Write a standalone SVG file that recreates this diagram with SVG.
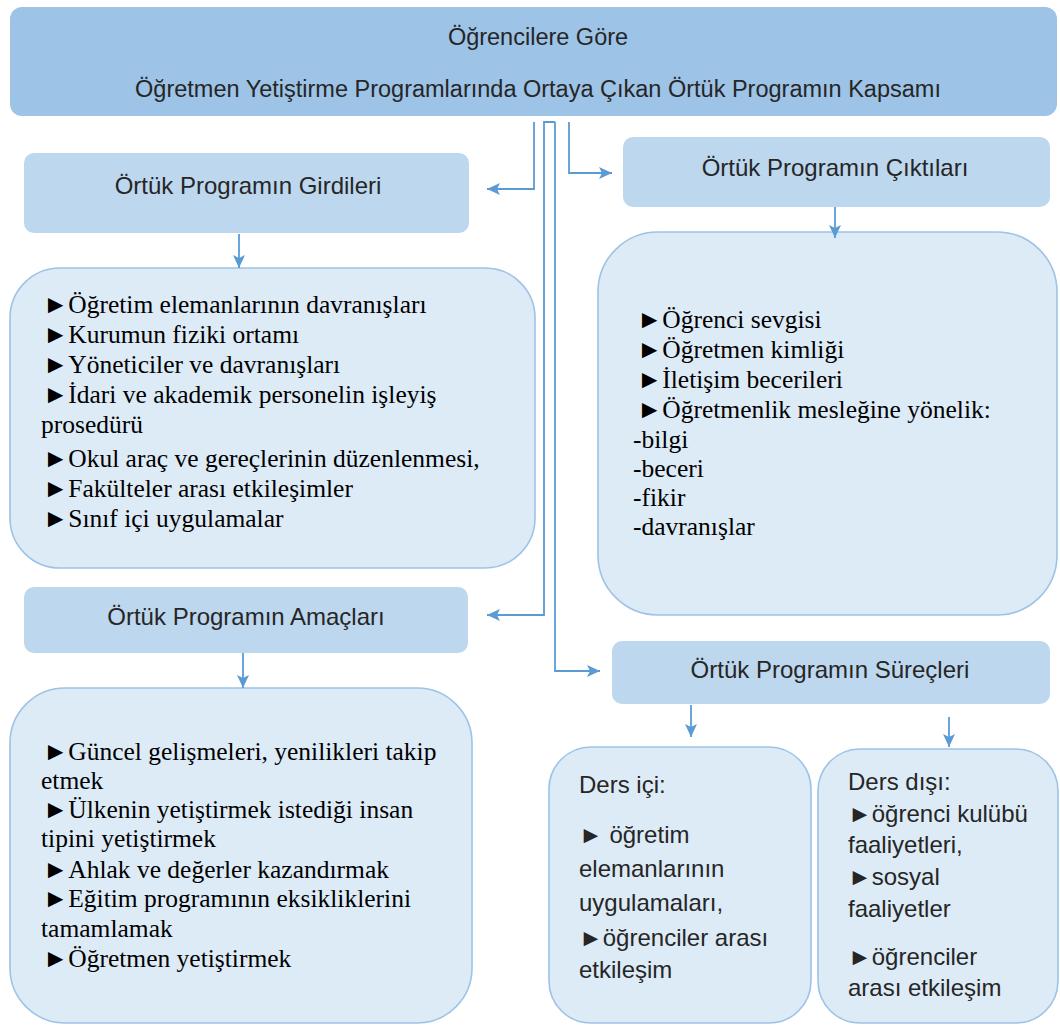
<svg xmlns="http://www.w3.org/2000/svg" width="1060" height="1026" viewBox="0 0 1060 1026">
<style>
.hdr{fill:#9DC3E6}
.lbl{fill:#BDD7EE}
.cnt{fill:#DDEBF7;stroke:#9DC3E6;stroke-width:1.6}
.sans{font-family:"Liberation Sans",Arial,sans-serif;fill:#262626}
.serif{font-family:"Liberation Serif","Times New Roman",serif;font-size:25.5px;fill:#000}
.conn path{fill:none;stroke:#5B9BD5;stroke-width:1.8}
</style>
<defs>
<marker id="ah" markerUnits="userSpaceOnUse" markerWidth="14" markerHeight="12" refX="13" refY="6" orient="auto">
<path d="M0,0 L13,6 L0,12 L3,6 Z" fill="#5B9BD5"/>
</marker>
</defs>
<rect width="1060" height="1026" fill="#fff"/>

<g id="header">
<rect class="hdr" x="10" y="7" width="1047" height="109" rx="12"/>
<text class="sans" font-size="23.5" text-anchor="middle" x="538" y="45">Öğrencilere Göre</text>
<text class="sans" font-size="23.5" text-anchor="middle" x="538" y="97">Öğretmen Yetiştirme Programlarında Ortaya Çıkan Örtük Programın Kapsamı</text>
</g>

<g id="girdileri">
<rect class="lbl" x="24" y="153" width="445" height="80" rx="10"/>
<text class="sans" font-size="24" text-anchor="middle" x="248" y="194">Örtük Programın Girdileri</text>
</g>

<g id="girdileri-icerik">
<rect class="cnt" x="10" y="268" width="525" height="300" rx="50"/>
<text class="serif">
<tspan x="43" y="313">►Öğretim elemanlarının davranışları</tspan>
<tspan x="43" y="343">►Kurumun fiziki ortamı</tspan>
<tspan x="43" y="373">►Yöneticiler ve davranışları</tspan>
<tspan x="43" y="403">►İdari ve akademik personelin işleyiş</tspan>
<tspan x="41" y="433">prosedürü</tspan>
<tspan x="43" y="467">►Okul araç ve gereçlerinin düzenlenmesi,</tspan>
<tspan x="43" y="497">►Fakülteler arası etkileşimler</tspan>
<tspan x="43" y="527">►Sınıf içi uygulamalar</tspan>
</text>
</g>

<g id="amaclari">
<rect class="lbl" x="24" y="587" width="444" height="66" rx="10"/>
<text class="sans" font-size="24" text-anchor="middle" x="246" y="625">Örtük Programın Amaçları</text>
</g>

<g id="amaclari-icerik">
<rect class="cnt" x="10" y="688" width="462" height="335" rx="55"/>
<text class="serif">
<tspan x="43" y="760">►Güncel gelişmeleri, yenilikleri takip</tspan>
<tspan x="41" y="789">etmek</tspan>
<tspan x="43" y="818">►Ülkenin yetiştirmek istediği insan</tspan>
<tspan x="41" y="847">tipini yetiştirmek</tspan>
<tspan x="43" y="878">►Ahlak ve değerler kazandırmak</tspan>
<tspan x="43" y="907">►Eğitim programının eksikliklerini</tspan>
<tspan x="41" y="937">tamamlamak</tspan>
<tspan x="43" y="967">►Öğretmen yetiştirmek</tspan>
</text>
</g>

<g id="ciktilari">
<rect class="lbl" x="623" y="137" width="427" height="70" rx="10"/>
<text class="sans" font-size="24" text-anchor="middle" x="835" y="176">Örtük Programın Çıktıları</text>
</g>

<g id="ciktilari-icerik">
<rect class="cnt" x="598" y="232" width="459" height="383" rx="60"/>
<text class="serif">
<tspan x="637" y="328">►Öğrenci sevgisi</tspan>
<tspan x="637" y="358">►Öğretmen kimliği</tspan>
<tspan x="637" y="388">►İletişim becerileri</tspan>
<tspan x="637" y="418">►Öğretmenlik mesleğine yönelik:</tspan>
<tspan x="633" y="448">-bilgi</tspan>
<tspan x="633" y="477">-beceri</tspan>
<tspan x="633" y="506">-fikir</tspan>
<tspan x="633" y="535">-davranışlar</tspan>
</text>
</g>

<g id="surecleri">
<rect class="lbl" x="612" y="641" width="438" height="63" rx="10"/>
<text class="sans" font-size="24" text-anchor="middle" x="830" y="678">Örtük Programın Süreçleri</text>
</g>

<g id="ders-ici">
<rect class="cnt" x="549" y="747" width="262" height="276" rx="42"/>
<text class="sans" font-size="24">
<tspan x="579" y="793">Ders içi:</tspan>
<tspan x="579" y="843">► öğretim</tspan>
<tspan x="579" y="877">elemanlarının</tspan>
<tspan x="579" y="911">uygulamaları,</tspan>
<tspan x="579" y="946">►öğrenciler arası</tspan>
<tspan x="579" y="978">etkileşim</tspan>
</text>
</g>

<g id="ders-disi">
<rect class="cnt" x="818" y="749" width="240" height="274" rx="42"/>
<text class="sans" font-size="24">
<tspan x="848" y="790">Ders dışı:</tspan>
<tspan x="848" y="822">►öğrenci kulübü</tspan>
<tspan x="848" y="853">faaliyetleri,</tspan>
<tspan x="848" y="885">►sosyal</tspan>
<tspan x="848" y="917">faaliyetler</tspan>
<tspan x="848" y="965">►öğrenciler</tspan>
<tspan x="848" y="996">arası etkileşim</tspan>
</text>
</g>

<g id="connectors" class="conn">
<path d="M534,122 V189 H487" marker-end="url(#ah)"/>
<path d="M569,122 V173 H612" marker-end="url(#ah)"/>
<path d="M555,122 H544 V615 H487" marker-end="url(#ah)"/>
<path d="M555,122 V671 H600" marker-end="url(#ah)"/>
<path d="M239,234 V268" marker-end="url(#ah)"/>
<path d="M835,207 V238" marker-end="url(#ah)"/>
<path d="M243,653 V688" marker-end="url(#ah)"/>
<path d="M691,705 V737" marker-end="url(#ah)"/>
<path d="M949,717 V747" marker-end="url(#ah)"/>
</g>
</svg>
